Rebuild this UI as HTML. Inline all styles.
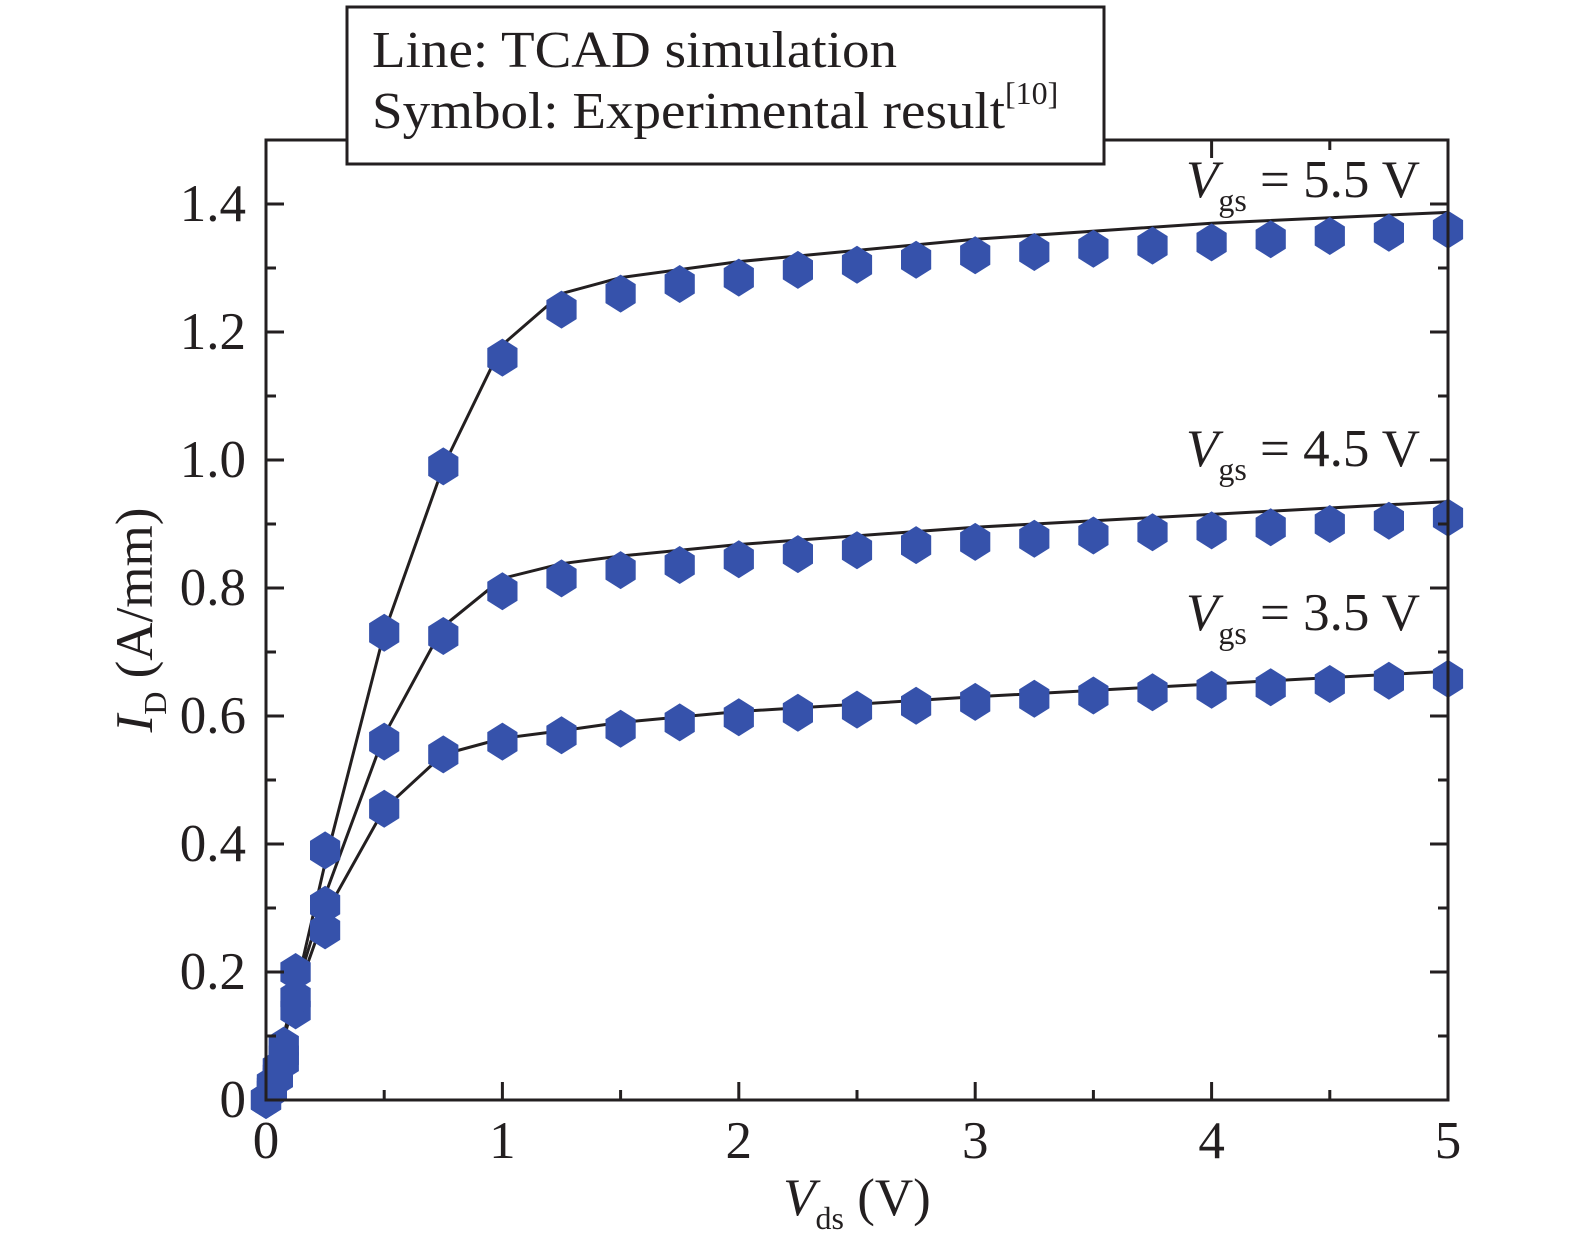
<!DOCTYPE html>
<html><head><meta charset="utf-8"><style>
html,body{margin:0;padding:0;background:#fff}
svg{display:block;font-family:"Liberation Serif",serif}
</style></head><body>
<svg id="c" width="1575" height="1250" viewBox="0 0 1575 1250" xmlns="http://www.w3.org/2000/svg">
<g id="marks"></g>
<rect x="266" y="140" width="1182" height="960" fill="none" stroke="#231f20" stroke-width="3"/>
<g id="ticks" stroke="#231f20" stroke-width="3"></g>
<g id="labels" font-size="53" fill="#231f20"></g>
<g>
<rect x="347" y="7" width="757" height="157" fill="#fff" stroke="#231f20" stroke-width="3"/>
<text x="372" y="67" font-size="52" fill="#231f20" textLength="525" lengthAdjust="spacingAndGlyphs">Line: TCAD simulation</text>
<text x="372" y="128" font-size="52" fill="#231f20"><tspan textLength="633" lengthAdjust="spacingAndGlyphs">Symbol: Experimental result</tspan><tspan font-size="32" dy="-24">[10]</tspan></text>
</g>
<text x="1420" y="197" font-size="53" text-anchor="end" fill="#231f20"><tspan font-style="italic">V</tspan><tspan font-size="32" dy="14">gs</tspan><tspan dy="-14"> = 5.5 V</tspan></text>
<text x="1420" y="466" font-size="53" text-anchor="end" fill="#231f20"><tspan font-style="italic">V</tspan><tspan font-size="32" dy="14">gs</tspan><tspan dy="-14"> = 4.5 V</tspan></text>
<text x="1420" y="630" font-size="53" text-anchor="end" fill="#231f20"><tspan font-style="italic">V</tspan><tspan font-size="32" dy="14">gs</tspan><tspan dy="-14"> = 3.5 V</tspan></text>
<text x="857" y="1215" font-size="53" text-anchor="middle" fill="#231f20"><tspan font-style="italic">V</tspan><tspan font-size="32" dy="14">ds</tspan><tspan dy="-14"> (V)</tspan></text>
<text transform="translate(152,620) rotate(-90)" font-size="53" text-anchor="middle" fill="#231f20"><tspan font-style="italic">I</tspan><tspan font-size="32" dy="14">D</tspan><tspan dy="-14"> (A/mm)</tspan></text>
</svg>
<script>
const xTicks=[0,1,2,3,4,5];
const yTicks=[0,0.2,0.4,0.6,0.8,1.0,1.2,1.4];
const yTickLabels=["0","0.2","0.4","0.6","0.8","1.0","1.2","1.4"];
const expX=[0,0.025,0.05,0.075,0.125,0.25,0.5,0.75,1,1.25,1.5,1.75,2,2.25,2.5,2.75,3,3.25,3.5,3.75,4,4.25,4.5,4.75,5];
const exp55=[0,0.025,0.05,0.085,0.2,0.39,0.73,0.99,1.16,1.235,1.26,1.275,1.285,1.297,1.305,1.313,1.32,1.325,1.33,1.335,1.34,1.345,1.35,1.355,1.36];
const exp45=[0,0.02,0.04,0.07,0.16,0.305,0.56,0.725,0.795,0.815,0.828,0.836,0.845,0.853,0.859,0.867,0.872,0.877,0.882,0.887,0.89,0.895,0.9,0.905,0.91];
const exp35=[0,0.015,0.035,0.06,0.14,0.265,0.455,0.54,0.56,0.57,0.58,0.59,0.598,0.605,0.61,0.616,0.622,0.627,0.632,0.637,0.641,0.645,0.65,0.655,0.658];
const simX=[0,0.125,0.25,0.5,0.75,1,1.25,1.5,2,3,4,5];
const sim55=[0,0.17,0.37,0.73,0.99,1.18,1.26,1.285,1.31,1.345,1.37,1.387];
const sim45=[0,0.17,0.32,0.57,0.74,0.815,0.838,0.85,0.868,0.895,0.915,0.935];
const sim35=[0,0.16,0.29,0.455,0.54,0.565,0.577,0.59,0.607,0.63,0.65,0.67];
const X=v=>266+v*236.4, Y=v=>1100-v*640;
const NS="http://www.w3.org/2000/svg";
const marks=document.getElementById('marks'),ticks=document.getElementById('ticks'),labels=document.getElementById('labels');
function mk(t,a,p){const e=document.createElementNS(NS,t);for(const k in a)e.setAttribute(k,a[k]);p.appendChild(e);return e;}
function line(x1,y1,x2,y2){mk('line',{x1,y1,x2,y2},ticks);}
for(let i=0;i<=10;i++){const v=i*0.5,x=X(v),L=i%2?10:18;line(x,1100,x,1100-L);line(x,140,x,140+L);}
for(let i=0;i<=15;i++){const v=i*0.1,y=Y(v);if(y<140)continue;const L=i%2?10:18;line(266,y,266+L,y);line(1448,y,1448-L,y);}
xTicks.forEach(v=>{const t=mk('text',{x:X(v),y:1158,'text-anchor':'middle'},labels);t.textContent=v;

});
yTicks.forEach((v,i)=>{const t=mk('text',{x:246,y:Y(v)+17,'text-anchor':'end'},labels);t.textContent=yTickLabels[i];

});
function hex(cx,cy,r){let p=[];for(let k=0;k<6;k++){const a=Math.PI/2+k*Math.PI/3;p.push((cx+r*0.92*Math.cos(a)).toFixed(1)+','+(cy-r*Math.sin(a)).toFixed(1));}return p.join(' ');}
[[sim35,'sim-line-vgs-3-5'],[sim45,'sim-line-vgs-4-5'],[sim55,'sim-line-vgs-5-5']].forEach(([s,n])=>{
const p=mk('polyline',{points:simX.map((x,i)=>X(x)+','+Y(s[i])).join(' '),fill:'none',stroke:'#231f20','stroke-width':3},marks);

});
[[exp35,'exp-point-vgs-3-5'],[exp45,'exp-point-vgs-4-5'],[exp55,'exp-point-vgs-5-5']].forEach(([s,n])=>{
expX.forEach((x,i)=>{const h=mk('polygon',{points:hex(X(x),Y(s[i]),19),fill:'#3652ab'},marks);

});});
</script>
</body></html>
